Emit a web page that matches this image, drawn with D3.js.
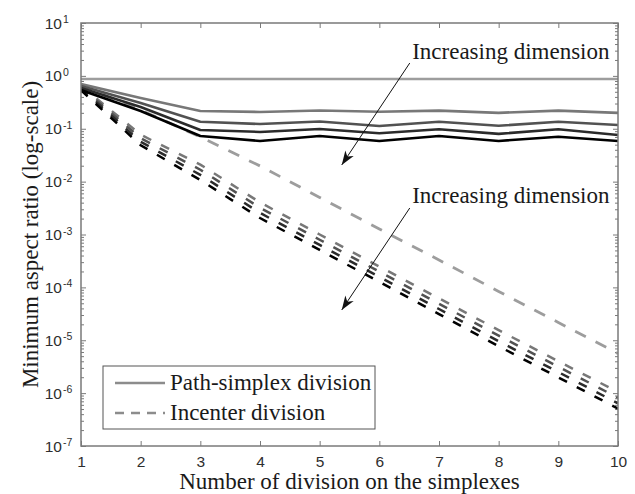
<!DOCTYPE html>
<html>
<head>
<meta charset="utf-8">
<script src="https://cdn.jsdelivr.net/npm/d3@7"></script>
<style>
  body { margin: 0; background: #fff; }
</style>
</head>
<body>
<div class="chart"></div>
<script>
// number of divisions (x axis)
const divisions = [1, 2, 3, 4, 5, 6, 7, 8, 9, 10];

// path-simplex division, one row per dimension (lightest first)
const pathSimplex = [
  [0.87, 0.87, 0.87, 0.87, 0.87, 0.87, 0.87, 0.87, 0.87, 0.87],
  [0.70, 0.38, 0.217, 0.208, 0.222, 0.21, 0.22, 0.20, 0.22, 0.20],
  [0.644, 0.307, 0.136, 0.123, 0.137, 0.113, 0.136, 0.114, 0.136, 0.118],
  [0.59, 0.258, 0.095, 0.087, 0.099, 0.082, 0.098, 0.080, 0.098, 0.076],
  [0.54, 0.217, 0.073, 0.0587, 0.073, 0.0587, 0.073, 0.0587, 0.0708, 0.0587]
];

// incenter division, one row per dimension (lightest first)
const incenter = [
  [0.644, 0.2265, 0.0699, 0.0198, 5.02e-3, 1.27e-3, 3.30e-4, 8.37e-5, 2.17e-5, 5.62e-6],
  [0.651, 0.0771, 0.0210, 4.05e-3, 1.0e-3, 2.48e-4, 6.2e-5, 1.55e-5, 4.0e-6, 1.05e-6],
  [0.610, 0.0662, 0.0168, 3.21e-3, 7.96e-4, 1.98e-4, 4.91e-5, 1.22e-5, 3.16e-6, 8.18e-7],
  [0.571, 0.0568, 0.0134, 2.56e-3, 6.35e-4, 1.58e-4, 3.9e-5, 9.6e-6, 2.5e-6, 6.4e-7],
  [0.535, 0.0488, 0.0107, 2.05e-3, 5.1e-4, 1.27e-4, 3.12e-5, 7.7e-6, 1.98e-6, 5.1e-7]
];

const yExponents = [1, 0, -1, -2, -3, -4, -5, -6, -7];
const legendLabels = ['Path-simplex division', 'Incenter division'];
const annotationLabel = 'Increasing dimension';
// arrows in data units: [x1, y1, x2, y2]
const arrows = [
  [6.51, 1.75, 5.37, 0.0207],
  [6.51, 3.17e-3, 5.37, 3.74e-5]
];
const annotationPos = [[6.55, 2.09], [6.55, 3.95e-3]];

const grays = ['#9d9d9d', '#787878', '#525252', '#2b2b2b', '#000000'];

const width = 635;
const height = 494;
const margin = { top: 23, right: 17, bottom: 48, left: 81 };
const serif = '"Liberation Serif", "Times New Roman", serif';
const sans = '"Liberation Sans", Arial, sans-serif';

const svg = d3
  .select('.chart')
  .append('svg')
  .attr('width', width)
  .attr('height', height);

const x = d3
  .scaleLinear()
  .domain([1, 10])
  .range([margin.left, width - margin.right]);

const y = d3
  .scaleLog()
  .domain([1e-7, 10])
  .range([height - margin.bottom, margin.top]);

svg.append('defs')
  .append('clipPath')
  .attr('id', 'plot')
  .append('rect')
  .attr('x', margin.left)
  .attr('y', margin.top)
  .attr('width', width - margin.left - margin.right)
  .attr('height', height - margin.top - margin.bottom);

svg.select('defs')
  .append('marker')
  .attr('id', 'head')
  .attr('markerUnits', 'userSpaceOnUse')
  .attr('markerWidth', 20)
  .attr('markerHeight', 20)
  .attr('viewBox', '-16 -8 20 16')
  .attr('orient', 'auto')
  .append('path')
  .attr('d', 'M0,0 L-14,-5 L-10,0 L-14,5 Z')
  .attr('fill', '#111');

// ticks
const majorY = yExponents.map((e) => Math.pow(10, e));
const minorY = [];
yExponents.slice(1).forEach((e) => {
  for (let d = 2; d <= 9; d++) minorY.push(d * Math.pow(10, e));
});

const axisColor = '#7a7a7a';

const styleAxis = (g) => {
  g.select('.domain').remove();
  g.selectAll('line').attr('stroke', axisColor).attr('stroke-width', 1);
};

svg.append('g')
  .attr('transform', `translate(0,${height - margin.bottom})`)
  .call(d3.axisBottom(x).tickValues(divisions).tickSize(-5).tickPadding(10).tickFormat(d3.format('d')))
  .call(styleAxis)
  .call((g) => g.selectAll('text')
    .attr('font-family', sans)
    .attr('font-size', 15.5)
    .attr('fill', '#2e2e2e'));

svg.append('g')
  .attr('transform', `translate(0,${margin.top})`)
  .call(d3.axisTop(x).tickValues(divisions).tickSize(-5).tickFormat(''))
  .call(styleAxis);

[[d3.axisLeft, margin.left], [d3.axisRight, width - margin.right]].forEach(([axis, pos]) => {
  svg.append('g')
    .attr('transform', `translate(${pos},0)`)
    .call(axis(y).tickValues(majorY).tickSize(-5).tickFormat(''))
    .call(styleAxis);
  svg.append('g')
    .attr('transform', `translate(${pos},0)`)
    .call(axis(y).tickValues(minorY).tickSize(-3).tickFormat(''))
    .call(styleAxis);
});

// y tick labels 10^e
const yLabels = svg.append('g')
  .attr('font-family', sans)
  .attr('fill', '#2e2e2e')
  .selectAll('g')
  .data(yExponents)
  .join('g')
  .attr('transform', (e) => `translate(0,${y(Math.pow(10, e))})`);

yLabels.append('text')
  .attr('x', 62)
  .attr('dy', '0.36em')
  .attr('text-anchor', 'end')
  .attr('font-size', 15.5)
  .text('10');

yLabels.append('text')
  .attr('x', 63)
  .attr('y', 0)
  .attr('font-size', 10.5)
  .text((e) => `${e}`);

// series
const line = d3
  .line()
  .x((d, i) => x(divisions[i]))
  .y((d) => y(d));

const plot = svg.append('g').attr('clip-path', 'url(#plot)');

plot.selectAll('.incenter')
  .data(incenter)
  .join('path')
  .attr('class', 'incenter')
  .attr('fill', 'none')
  .attr('stroke', (d, i) => grays[i])
  .attr('stroke-width', (d, i) => (i === 0 ? 2.8 : 2.5))
  .attr('stroke-dasharray', (d, i) => (i === 0 ? '12,11' : '9,11'))
  .attr('d', line);

plot.selectAll('.path-simplex')
  .data(pathSimplex)
  .join('path')
  .attr('class', 'path-simplex')
  .attr('fill', 'none')
  .attr('stroke', (d, i) => grays[i])
  .attr('stroke-width', 2.6)
  .attr('stroke-linejoin', 'round')
  .attr('d', line);

// frame
svg.append('rect')
  .attr('x', margin.left)
  .attr('y', margin.top)
  .attr('width', width - margin.left - margin.right)
  .attr('height', height - margin.top - margin.bottom)
  .attr('fill', 'none')
  .attr('stroke', axisColor)
  .attr('stroke-width', 1.5);

// annotations
svg.selectAll('.arrow')
  .data(arrows)
  .join('line')
  .attr('class', 'arrow')
  .attr('x1', (d) => x(d[0]))
  .attr('y1', (d) => y(d[1]))
  .attr('x2', (d) => x(d[2]))
  .attr('y2', (d) => y(d[3]))
  .attr('stroke', '#111')
  .attr('stroke-width', 1)
  .attr('marker-end', 'url(#head)');

svg.selectAll('.note')
  .data(annotationPos)
  .join('text')
  .attr('class', 'note')
  .attr('x', (d) => x(d[0]))
  .attr('y', (d) => y(d[1]))
  .attr('font-family', serif)
  .attr('font-size', 23)
  .attr('fill', '#1a1a1a')
  .text(annotationLabel);

// legend
const legend = svg.append('g').attr('transform', 'translate(103,366)');
legend.append('rect')
  .attr('width', 272)
  .attr('height', 63)
  .attr('fill', '#fff')
  .attr('stroke', '#555')
  .attr('stroke-width', 1);

legendLabels.forEach((label, i) => {
  const yy = 17 + i * 30;
  legend.append('line')
    .attr('x1', 12)
    .attr('x2', 62)
    .attr('y1', yy)
    .attr('y2', yy)
    .attr('stroke', '#8c8c8c')
    .attr('stroke-width', 2.6)
    .attr('stroke-dasharray', i === 1 ? '9,7' : null);
  legend.append('text')
    .attr('x', 67)
    .attr('y', yy + 7)
    .attr('font-family', serif)
    .attr('font-size', 23)
    .attr('fill', '#1a1a1a')
    .text(label);
});

// axis titles
svg.append('text')
  .attr('x', (margin.left + width - margin.right) / 2)
  .attr('y', 489)
  .attr('text-anchor', 'middle')
  .attr('font-family', serif)
  .attr('font-size', 23)
  .attr('fill', '#1a1a1a')
  .text('Number of division on the simplexes');

svg.append('text')
  .attr('transform', `translate(38,${(margin.top + height - margin.bottom) / 2}) rotate(-90)`)
  .attr('text-anchor', 'middle')
  .attr('font-family', serif)
  .attr('font-size', 23)
  .attr('fill', '#1a1a1a')
  .text('Minimum aspect ratio (log-scale)');
</script>
</body>
</html>
